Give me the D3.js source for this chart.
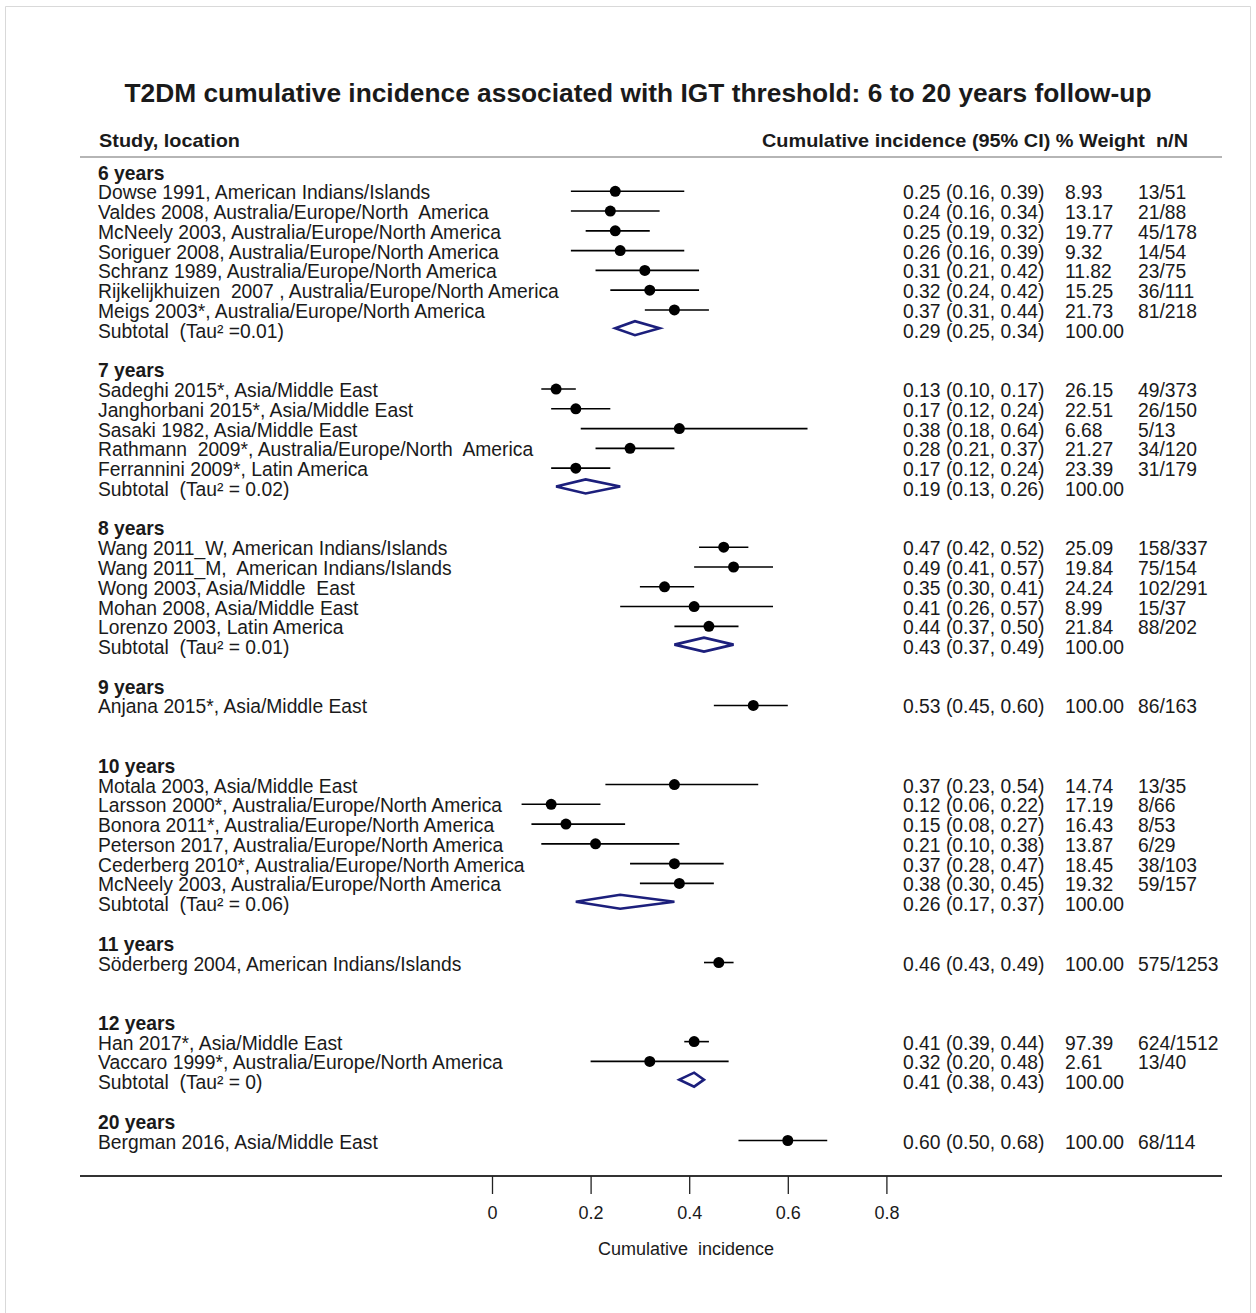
<!DOCTYPE html>
<html><head><meta charset="utf-8">
<script src="https://cdn.jsdelivr.net/npm/d3@7"></script>
<style>body{margin:0;background:#fff}svg{display:block}svg text{white-space:pre}</style>
</head><body>
<script>
// ---- data ----
const groupNames = ["6 years","7 years","8 years","9 years","10 years","11 years","12 years","20 years"];
const studyLabels = [
 "Dowse 1991, American Indians/Islands",
 "Valdes 2008, Australia/Europe/North  America",
 "McNeely 2003, Australia/Europe/North America",
 "Soriguer 2008, Australia/Europe/North America",
 "Schranz 1989, Australia/Europe/North America",
 "Rijkelijkhuizen  2007 , Australia/Europe/North America",
 "Meigs 2003*, Australia/Europe/North America",
 "Sadeghi 2015*, Asia/Middle East",
 "Janghorbani 2015*, Asia/Middle East",
 "Sasaki 1982, Asia/Middle East",
 "Rathmann  2009*, Australia/Europe/North  America",
 "Ferrannini 2009*, Latin America",
 "Wang 2011_W, American Indians/Islands",
 "Wang 2011_M,  American Indians/Islands",
 "Wong 2003, Asia/Middle  East",
 "Mohan 2008, Asia/Middle East",
 "Lorenzo 2003, Latin America",
 "Anjana 2015*, Asia/Middle East",
 "Motala 2003, Asia/Middle East",
 "Larsson 2000*, Australia/Europe/North America",
 "Bonora 2011*, Australia/Europe/North America",
 "Peterson 2017, Australia/Europe/North America",
 "Cederberg 2010*, Australia/Europe/North America",
 "McNeely 2003, Australia/Europe/North America",
 "Söderberg 2004, American Indians/Islands",
 "Han 2017*, Asia/Middle East",
 "Vaccaro 1999*, Australia/Europe/North America",
 "Bergman 2016, Asia/Middle East"
];
const studyGroup = [0,0,0,0,0,0,0, 1,1,1,1,1, 2,2,2,2,2, 3, 4,4,4,4,4,4, 5, 6,6, 7];
const estimate = [0.25,0.24,0.25,0.26,0.31,0.32,0.37, 0.13,0.17,0.38,0.28,0.17, 0.47,0.49,0.35,0.41,0.44, 0.53, 0.37,0.12,0.15,0.21,0.37,0.38, 0.46, 0.41,0.32, 0.60];
const lower    = [0.16,0.16,0.19,0.16,0.21,0.24,0.31, 0.10,0.12,0.18,0.21,0.12, 0.42,0.41,0.30,0.26,0.37, 0.45, 0.23,0.06,0.08,0.10,0.28,0.30, 0.43, 0.39,0.20, 0.50];
const upper    = [0.39,0.34,0.32,0.39,0.42,0.42,0.44, 0.17,0.24,0.64,0.37,0.24, 0.52,0.57,0.41,0.57,0.50, 0.60, 0.54,0.22,0.27,0.38,0.47,0.45, 0.49, 0.44,0.48, 0.68];
const weight   = [8.93,13.17,19.77,9.32,11.82,15.25,21.73, 26.15,22.51,6.68,21.27,23.39, 25.09,19.84,24.24,8.99,21.84, 100.00, 14.74,17.19,16.43,13.87,18.45,19.32, 100.00, 97.39,2.61, 100.00];
const nOverN   = ["13/51","21/88","45/178","14/54","23/75","36/111","81/218", "49/373","26/150","5/13","34/120","31/179", "158/337","75/154","102/291","15/37","88/202", "86/163", "13/35","8/66","8/53","6/29","38/103","59/157", "575/1253", "624/1512","13/40", "68/114"];
const subtotalGroup = [0,1,2,4,6];
const subtotalTau   = ["Tau² =0.01","Tau² = 0.02","Tau² = 0.01","Tau² = 0.06","Tau² = 0"];
const subEstimate   = [0.29,0.19,0.43,0.26,0.41];
const subLower      = [0.25,0.13,0.37,0.17,0.38];
const subUpper      = [0.34,0.26,0.49,0.37,0.43];
const tickValues = [0,0.2,0.4,0.6,0.8];

// ---- layout rows ----
const rows = [];
let r = 0;
groupNames.forEach((g,gi)=>{
  rows.push({type:"group", gi, row:r++});
  studyGroup.forEach((sg,si)=>{ if(sg===gi) rows.push({type:"study", si, row:r++}); });
  const sIdx = subtotalGroup.indexOf(gi);
  if (sIdx>=0) rows.push({type:"sub", k:sIdx, row:r});
  r += 2;
});

const W=1256,H=1313;
const svg=d3.select("body").append("svg").attr("width",W).attr("height",H);
const font="'Liberation Sans', Arial, sans-serif";
const txt="#1a1a1a";
const navy="#1c1f7c";

svg.append("path").attr("d",`M5.5,${H} V6.5 H1250.5 V${H}`).attr("fill","none").attr("stroke","#d9d9d9").attr("stroke-width",1);

const x=d3.scaleLinear().domain([0,0.8]).range([492,886.4]);
const y=d3.scaleLinear().domain([0,49]).range([173,1142]);

svg.append("text").attr("x",638).attr("y",102).attr("text-anchor","middle")
  .attr("font-family",font).attr("font-weight","bold").attr("font-size",25).attr("fill",txt)
  .attr("textLength",1027).attr("lengthAdjust","spacingAndGlyphs")
  .text("T2DM cumulative incidence associated with IGT threshold: 6 to 20 years follow-up");
svg.append("text").attr("x",99).attr("y",147).attr("font-family",font).attr("font-weight","bold")
  .attr("font-size",19).attr("fill",txt).attr("textLength",141).attr("lengthAdjust","spacingAndGlyphs").text("Study, location");
svg.append("text").attr("x",762).attr("y",147).attr("font-family",font).attr("font-weight","bold")
  .attr("font-size",19).attr("fill",txt).attr("textLength",426).attr("lengthAdjust","spacingAndGlyphs")
  .text("Cumulative incidence (95% CI) % Weight  n/N");
svg.append("line").attr("x1",80).attr("x2",1222).attr("y1",157).attr("y2",157).attr("stroke","#b5b5b5").attr("stroke-width",2);

const fs=19.3, base=6.5;
const g=svg.append("g").attr("font-family",font).attr("font-size",fs).attr("fill",txt);
const fmt=d3.format(".2f");

rows.forEach(d=>{
  const yy=y(d.row);
  if(d.type==="group"){
    g.append("text").attr("x",98).attr("y",yy+base).attr("font-weight","bold").text(groupNames[d.gi]);
  } else if(d.type==="study"){
    const i=d.si;
    g.append("text").attr("x",98).attr("y",yy+base).text(studyLabels[i]);
    g.append("text").attr("x",903).attr("y",yy+base).text(`${fmt(estimate[i])} (${fmt(lower[i])}, ${fmt(upper[i])})`);
    g.append("text").attr("x",1065).attr("y",yy+base).text(fmt(weight[i]));
    g.append("text").attr("x",1138).attr("y",yy+base).text(nOverN[i]);
    svg.append("line").attr("x1",x(lower[i])).attr("x2",x(upper[i])).attr("y1",yy-1.5).attr("y2",yy-1.5)
      .attr("stroke","#000").attr("stroke-width",1.6);
    svg.append("circle").attr("cx",x(estimate[i])).attr("cy",yy-1.5).attr("r",5.5).attr("fill","#000");
  } else {
    const k=d.k;
    g.append("text").attr("x",98).attr("y",yy+base).text(`Subtotal  (${subtotalTau[k]})`);
    g.append("text").attr("x",903).attr("y",yy+base).text(`${fmt(subEstimate[k])} (${fmt(subLower[k])}, ${fmt(subUpper[k])})`);
    g.append("text").attr("x",1065).attr("y",yy+base).text("100.00");
    const cy=yy-3, hh=7;
    svg.append("path").attr("d",`M${x(subLower[k])},${cy} L${x(subEstimate[k])},${cy-hh} L${x(subUpper[k])},${cy} L${x(subEstimate[k])},${cy+hh} Z`)
      .attr("fill","none").attr("stroke",navy).attr("stroke-width",2.6);
  }
});

const axisY=1176;
svg.append("line").attr("x1",80).attr("x2",1222).attr("y1",axisY).attr("y2",axisY).attr("stroke","#333").attr("stroke-width",2);
const ax=svg.append("g").attr("transform",`translate(0,${axisY})`)
  .call(d3.axisBottom(x).tickValues(tickValues).tickSize(18).tickPadding(12).tickFormat(d=>d===0?"0":d3.format(".1f")(d)));
ax.select(".domain").remove();
ax.selectAll(".tick line").attr("stroke","#222").attr("stroke-width",1.3);
ax.selectAll(".tick text").attr("font-family",font).attr("font-size",18).attr("fill",txt);
svg.append("text").attr("x",686).attr("y",1255).attr("text-anchor","middle").attr("font-family",font)
  .attr("font-size",18).attr("fill",txt).text("Cumulative  incidence");
</script>
</body></html>
